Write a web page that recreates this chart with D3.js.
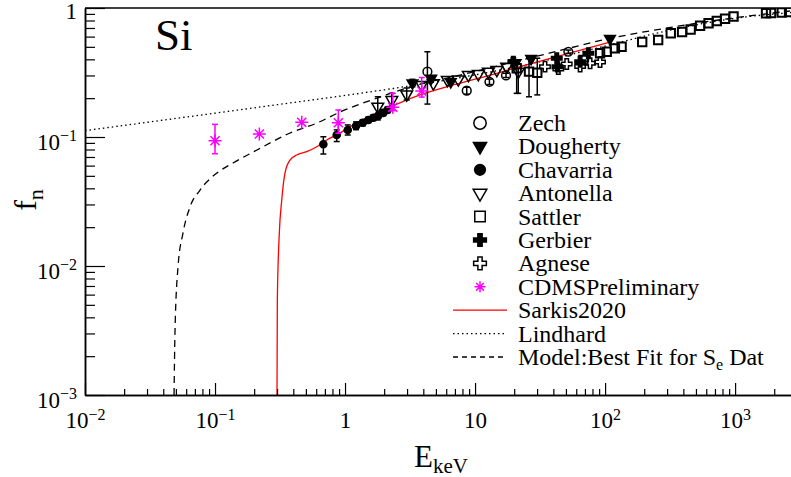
<!DOCTYPE html>
<html>
<head>
<meta charset="utf-8">
<script src="https://cdn.jsdelivr.net/npm/d3@7"></script>
<style>
body{margin:0;background:#fff}
text{font-family:"Liberation Serif","Times New Roman",serif;fill:#000}
</style>
</head>
<body>
<script>
const width = 791, height = 477;
const margin = {left:85, top:8, right:0, bottom:82};

// axis ticks
const xTicks = [0.01, 0.1, 1, 10, 100, 1000];
const xLabels = [["10","\u22122"],["10","\u22121"],["1",""],["10",""],["10","2"],["10","3"]];
const yTicks = [0.001, 0.01, 0.1, 1];
const yLabels = [["10","\u22123"],["10","\u22122"],["10","\u22121"],["1",""]];

// curves
const lindE = [0.01, 0.03, 0.1, 0.3, 1, 3, 10, 30, 100, 300, 1000, 2700];
const lindF = [0.112, 0.130, 0.153, 0.178, 0.210, 0.247, 0.303, 0.379, 0.507, 0.666, 0.832, 0.921];
const modelE = [0.0484, 0.0488, 0.0492, 0.0519, 0.0567, 0.0642, 0.0767, 0.1035, 0.1376, 0.2104, 0.3775, 0.609, 0.915, 1.858, 3.77, 6.09, 37.8, 103.5, 300, 966, 2650];
const modelF = [0.001, 0.00187, 0.00303, 0.0098, 0.018, 0.0287, 0.0388, 0.0526, 0.0629, 0.0793, 0.1074, 0.1284, 0.156, 0.204, 0.2575, 0.2866, 0.448, 0.575, 0.70, 0.837, 0.948];
const sarkE = [0.2997, 0.3015, 0.3123, 0.326, 0.3455, 0.3775, 0.425, 0.5075, 0.606, 0.723, 0.915, 1.152, 1.858, 3.77, 6.77, 14.7, 22.2, 112.6];
const sarkF = [0.001, 0.00545, 0.018, 0.0325, 0.0526, 0.0663, 0.0725, 0.0769, 0.0841, 0.0948, 0.1074, 0.124, 0.157, 0.212, 0.253, 0.312, 0.351, 0.548];

// data points: [E, f, low, high]
const zech = [[4.30,0.321,0.180,0.458],[8.63,0.2285,0.215,0.243],[12.9,0.268,0.255,0.281],[17.3,0.300,0.289,0.312],[52.2,0.458,0.445,0.472]];
const dougherty = [[3.3,0.262,0.245,0.28],[4.6,0.285],[6.5,0.268],[27,0.405],[109,0.58]];
const chavarria = [[0.681,0.0878,0.0738,0.1005],[0.863,0.1036,0.0922,0.1135],[1.049,0.1133,0.1036,0.124],[1.215,0.1217,0.114,0.131],[1.368,0.129,0.122,0.136],[1.51,0.1355,0.129,0.142],[1.65,0.141,0.134,0.148],[1.80,0.146,0.139,0.153],[1.97,0.154,0.146,0.162],[2.12,0.162,0.154,0.170]];
const antonella = [[1.785,0.172,0.1355,0.205],[2.29,0.1935,0.177,0.218],[2.98,0.214,0.1935,0.24],[3.89,0.253],[4.78,0.261],[6.12,0.277],[7.44,0.28],[8.88,0.303],[10.6,0.308],[12.65,0.321],[14.7,0.331],[17.5,0.351],[20.3,0.373],[21.5,0.321,0.218,0.34]];
const sattler = [[20.9,0.341,0.218,0.395],[26.0,0.321,0.205,0.408],[30.1,0.315,0.212,0.408],[68.1,0.395],[91.5,0.446],[103,0.458],[119,0.487],[134,0.501],[193,0.545],[256,0.565],[320,0.637],[391,0.652],[455,0.681],[538,0.728],[625,0.761],[723,0.793],[837,0.825],[973,0.859],[1730,0.910],[1890,0.915],[2286,0.923],[2600,0.931]];
const gerbier = [[19.7,0.383,0.36,0.41],[42.5,0.408],[43,0.351],[64.3,0.383],[74.4,0.446]];
const agnese = [[34.5,0.351],[43.7,0.336],[50.7,0.368],[64.3,0.352],[76.7,0.373],[91.5,0.381]];
const cdms = [[0.1,0.0936,0.0742,0.1254],[0.2193,0.1055],[0.4645,0.130],[0.888,0.129,0.107,0.162],[2.33,0.170,0.160,0.218],[3.89,0.227,0.204,0.289]];

const legendNames = ["Zech","Dougherty","Chavarria","Antonella","Sattler","Gerbier","Agnese","CDMSPreliminary","Sarkis2020","Lindhard","Model:Best Fit for S"];

const svg = d3.select("body").append("svg").attr("width",width).attr("height",height);
svg.append("rect").attr("width",width).attr("height",height).attr("fill","#fff");

const x = d3.scaleLog().domain([0.01, Math.pow(10,3.43)]).range([margin.left, width-margin.right]);
const y = d3.scaleLog().domain([0.001, 1]).range([height-margin.bottom, margin.top]);

svg.append("clipPath").attr("id","clip").append("rect")
  .attr("x",margin.left).attr("y",margin.top)
  .attr("width",width-margin.left).attr("height",height-margin.bottom-margin.top);

const plot = svg.append("g").attr("clip-path","url(#clip)");

function line(E,F){
  return d3.line().x(d=>x(d[0])).y(d=>y(d[1])).curve(d3.curveMonotoneX)(E.map((e,i)=>[e,F[i]]));
}
plot.append("path").attr("d",line(lindE,lindF)).attr("fill","none").attr("stroke","#000")
  .attr("stroke-width",1.3).attr("stroke-dasharray","1.5,3");
plot.append("path").attr("d",line(modelE,modelF)).attr("fill","none").attr("stroke","#000")
  .attr("stroke-width",1.3).attr("stroke-dasharray","7,5");
plot.append("path").attr("d",line(sarkE,sarkF)).attr("fill","none").attr("stroke","#ff0000")
  .attr("stroke-width",1.3);

// markers
const star = s => { const a=s*0.7; return `M${-s},0H${s}M0,${-s}V${s}M${-a},${-a}L${a},${a}M${-a},${a}L${a},${-a}`; };
const styles = {
  zech:{path:d3.symbol(d3.symbolCircle,60)(), fill:"none", rot:0, lpath:d3.symbol(d3.symbolCircle,120)()},
  dougherty:{path:d3.symbol(d3.symbolTriangle,50)(), fill:"#000", rot:180, lpath:d3.symbol(d3.symbolTriangle,75)()},
  chavarria:{path:d3.symbol(d3.symbolCircle,40)(), fill:"#000", rot:0, lpath:d3.symbol(d3.symbolCircle,90)()},
  antonella:{path:d3.symbol(d3.symbolTriangle,60)(), fill:"none", rot:180, lpath:d3.symbol(d3.symbolTriangle,80)()},
  sattler:{path:d3.symbol(d3.symbolSquare,70)(), fill:"none", rot:0, lpath:d3.symbol(d3.symbolSquare,110)(), sw:2},
  gerbier:{path:d3.symbol(d3.symbolCross,60)(), fill:"#000", rot:0, lpath:d3.symbol(d3.symbolCross,90)()},
  agnese:{path:d3.symbol(d3.symbolCross,60)(), fill:"none", rot:0, lpath:d3.symbol(d3.symbolCross,90)()},
  cdms:{path:star(6.5), fill:"none", rot:0, lpath:star(5.5), color:"#ff00ff"}
};
const series = [["zech",zech],["dougherty",dougherty],["chavarria",chavarria],["antonella",antonella],
  ["sattler",sattler],["gerbier",gerbier],["agnese",agnese],["cdms",cdms]];

series.forEach(([name,data])=>{
  const st = styles[name], col = st.color || "#000";
  const g = plot.append("g");
  const eb = data.filter(d=>d.length>2);
  g.selectAll("line.eb").data(eb).enter().append("line")
    .attr("x1",d=>x(d[0])).attr("x2",d=>x(d[0])).attr("y1",d=>y(d[2])).attr("y2",d=>y(d[3]))
    .attr("stroke",col).attr("stroke-width",1.5);
  [2,3].forEach(k=>{
    g.selectAll("line.cap"+k).data(eb).enter().append("line")
      .attr("x1",d=>x(d[0])-3).attr("x2",d=>x(d[0])+3).attr("y1",d=>y(d[k])).attr("y2",d=>y(d[k]))
      .attr("stroke",col).attr("stroke-width",1.5);
  });
  g.selectAll("path").data(data).enter().append("path")
    .attr("d",st.path)
    .attr("transform",d=>`translate(${x(d[0])},${y(d[1])}) rotate(${st.rot})`)
    .attr("fill",st.fill).attr("stroke",col).attr("stroke-width",st.sw||1.5);
});

// axes
const xAxis = d3.axisBottom(x).tickValues(xTicks).tickSizeInner(-12).tickSizeOuter(0).tickPadding(17).tickFormat("");
const gx = svg.append("g").attr("transform",`translate(0,${height-margin.bottom})`).call(xAxis);
gx.selectAll(".tick text").each(function(d){
  const l = xLabels[xTicks.indexOf(d)], t = d3.select(this).text(null);
  t.append("tspan").text(l[0]);
  if(l[1]) t.append("tspan").attr("dy","-0.5em").attr("font-size","16px").text(l[1]);
});
const xMinor = x.ticks().filter(v=>!xTicks.some(t=>Math.abs(v/t-1)<1e-6));
svg.append("g").attr("transform",`translate(0,${height-margin.bottom})`)
  .call(d3.axisBottom(x).tickValues(xMinor).tickSizeInner(-6).tickSizeOuter(0).tickFormat(""));

const yAxis = d3.axisLeft(y).tickValues(yTicks).tickSizeInner(-20).tickSizeOuter(0).tickPadding(8).tickFormat("");
const gy = svg.append("g").attr("transform",`translate(${margin.left},0)`).call(yAxis);
gy.selectAll(".tick text").attr("dy",d=>d===1?"0.45em":"0.55em").each(function(d){
  const l = yLabels[yTicks.indexOf(d)], t = d3.select(this).text(null);
  t.append("tspan").text(l[0]);
  if(l[1]) t.append("tspan").attr("dy","-0.55em").attr("font-size","16px").text(l[1]);
});
const yMinor = y.ticks().filter(v=>!yTicks.some(t=>Math.abs(v/t-1)<1e-6));
svg.append("g").attr("transform",`translate(${margin.left},0)`)
  .call(d3.axisLeft(y).tickValues(yMinor).tickSizeInner(-10).tickSizeOuter(0).tickFormat(""));

svg.selectAll(".domain").attr("stroke-width",1.5);
svg.selectAll(".tick line").attr("stroke-width",1.2);
svg.selectAll(".tick text").attr("font-size","23px").attr("font-family",'"Liberation Serif",serif');

svg.append("line").attr("x1",margin.left).attr("x2",width).attr("y1",margin.top).attr("y2",margin.top)
  .attr("stroke","#000").attr("stroke-width",1.5);

// titles
svg.append("text").attr("x",155).attr("y",50).attr("font-size","45px").text("Si");
const xt = svg.append("text").attr("x",441).attr("y",467).attr("text-anchor","middle").attr("font-size","31px");
xt.append("tspan").text("E");
xt.append("tspan").attr("dy","0.3em").attr("font-size","21px").text("keV");
const yt = svg.append("text").attr("transform","translate(36,200) rotate(-90)").attr("text-anchor","middle").attr("font-size","32px");
yt.append("tspan").text("f");
yt.append("tspan").attr("dy","7").attr("font-size","22px").text("n");

// legend
const legY = d3.scaleLinear().domain([0,10]).range([123,357]);
const leg = svg.append("g");
legendNames.forEach((name,i)=>{
  const cy = legY(i);
  const t = leg.append("text").attr("x",518).attr("y",cy+8).attr("font-size","24px").text(name);
  if(i===10){
    t.append("tspan").attr("dy","5").attr("font-size","16px").text("e");
    t.append("tspan").attr("dy","-5").text(" Dat");
  }
  if(i<8){
    const st = styles[series[i][0]];
    leg.append("path").attr("d",st.lpath).attr("transform",`translate(480,${cy}) rotate(${st.rot})`)
      .attr("fill",st.fill).attr("stroke",st.color||"#000").attr("stroke-width",1.5);
  } else {
    const ln = leg.append("line").attr("x1",453).attr("x2",507).attr("y1",cy).attr("y2",cy).attr("stroke-width",1.3);
    if(i===8) ln.attr("stroke","#ff0000");
    if(i===9) ln.attr("stroke","#000").attr("stroke-dasharray","1.5,3");
    if(i===10) ln.attr("stroke","#000").attr("stroke-dasharray","5,4");
  }
});
</script>
</body>
</html>
